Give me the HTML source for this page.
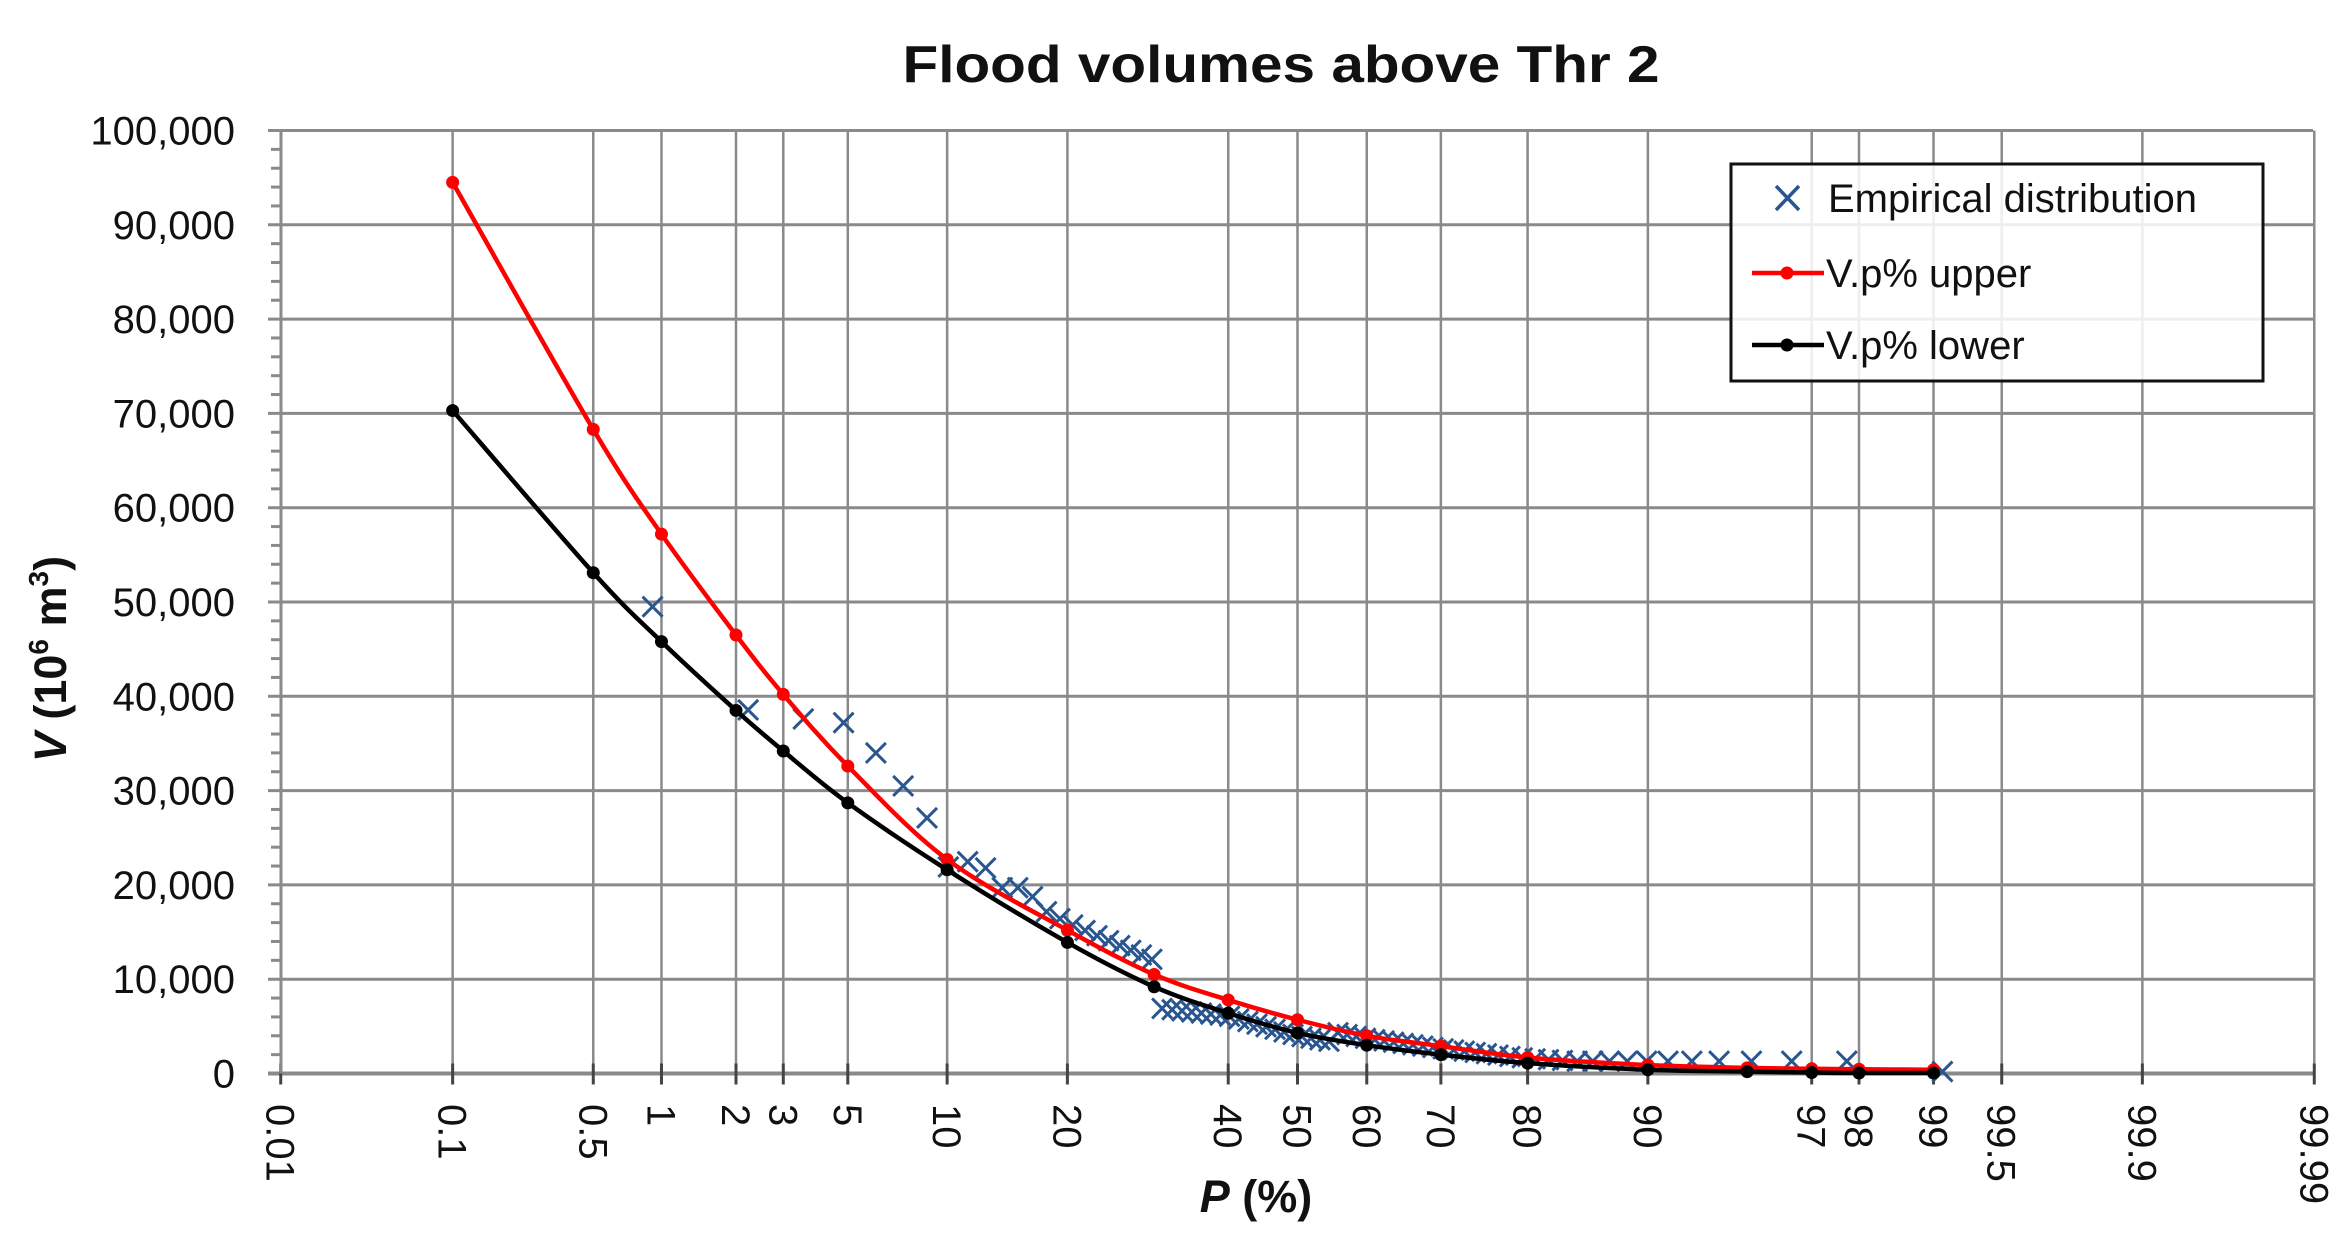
<!DOCTYPE html>
<html><head><meta charset="utf-8"><style>
html,body{margin:0;padding:0;background:#fff}
svg{display:block}
text{font-family:"Liberation Sans",sans-serif;fill:#111}
</style></head><body>
<svg id="s" width="2349" height="1241" xmlns="http://www.w3.org/2000/svg"></svg>
<script>
function ninv(p){var a=[-3.969683028665376e+01,2.209460984245205e+02,-2.759285104469687e+02,1.383577518672690e+02,-3.066479806614716e+01,2.506628277459239e+00],b=[-5.447609879822406e+01,1.615858368580409e+02,-1.556989798598866e+02,6.680131188771972e+01,-1.328068155288572e+01],c=[-7.784894002430293e-03,-3.223964580411365e-01,-2.400758277161838e+00,-2.549671669278000e+00,4.374664141464968e+00,2.938163982698783e+00],d=[7.784695709041462e-03,3.224671290700398e-01,2.445134137142996e+00,3.754408661907416e+00];var q,r,pl=0.02425;
if(p<pl){q=Math.sqrt(-2*Math.log(p));return(((((c[0]*q+c[1])*q+c[2])*q+c[3])*q+c[4])*q+c[5])/((((d[0]*q+d[1])*q+d[2])*q+d[3])*q+1);}
if(p>1-pl){q=Math.sqrt(-2*Math.log(1-p));return-(((((c[0]*q+c[1])*q+c[2])*q+c[3])*q+c[4])*q+c[5])/((((d[0]*q+d[1])*q+d[2])*q+d[3])*q+1);}
q=p-0.5;r=q*q;return(((((a[0]*r+a[1])*r+a[2])*r+a[3])*r+a[4])*r+a[5])*q/(((((b[0]*r+b[1])*r+b[2])*r+b[3])*r+b[4])*r+1);}
var L=281,R=2313,T=130.5,B=1073.5;
function X(P){return 1297.5+ninv(P/100)*273.4;}
function Y(v){return B-v*(B-T)/100000;}
var o='';
for(var v=0;v<=100000;v+=10000){o+='<line x1="268" x2="'+R+'" y1="'+Y(v)+'" y2="'+Y(v)+'" stroke="#8a8a8a" stroke-width="'+(v==0?4:3)+'"/>';}
for(var v=2000;v<100000;v+=2000){if(v%10000)o+='<line x1="271" x2="281" y1="'+Y(v)+'" y2="'+Y(v)+'" stroke="#8a8a8a" stroke-width="3"/>';}
var ticks=[0.01,0.1,0.5,1,2,3,5,10,20,40,50,60,70,80,90,97,98,99,99.5,99.9,99.99];
ticks.forEach(function(t){var x=X(t);o+='<line x1="'+x+'" x2="'+x+'" y1="'+T+'" y2="'+B+'" stroke="#8a8a8a" stroke-width="2.5"/>';
o+='<line x1="'+x+'" x2="'+x+'" y1="'+(B-10)+'" y2="'+(B+11)+'" stroke="#444" stroke-width="3"/>';
o+='<text transform="translate('+(x-14)+',1104) rotate(90)" font-size="40">'+t+'</text>';});
o+='<line x1="'+L+'" x2="'+L+'" y1="'+T+'" y2="'+B+'" stroke="#8a8a8a" stroke-width="3"/>';
for(var v=0;v<=100000;v+=10000){o+='<text x="235" y="'+(Y(v)+14)+'" font-size="40" text-anchor="end">'+(v==0?'0':v.toLocaleString('en-US'))+'</text>';}
var Ps=[0.1,0.5,1,2,3,5,10,20,30,40,50,60,70,80,90,95,97,98,99];
var up=[94500,68300,57200,46500,40200,32600,22700,15200,10500,7800,5700,4000,2900,1700,900,600,500,450,400];
var lo=[70300,53100,45800,38500,34200,28700,21600,13900,9200,6400,4300,3000,2000,1100,400,200,100,50,50];
function interp(arr,P){for(var i=0;i<Ps.length-1;i++){if(P<=Ps[i+1]){var z0=ninv(Ps[i]/100),z1=ninv(Ps[i+1]/100),z=ninv(P/100),f=(z-z0)/(z1-z0);return arr[i]+(arr[i+1]-arr[i])*f;}}return arr[arr.length-1];}
var n=76,first=[49500,38550,37600,37200,34000,30500,27100,21900,22460,21800,19700,19700,18750];
var ms='';
for(var m=1;m<=n;m++){var P=(m-0.3)/(n+0.4)*100,V;
if(m<=first.length)V=first[m-1];
else if(m==n)V=200;
else if(P<31)V=interp(up,P)+800+(P-20)*70;
else if(P<40)V=interp(lo,P)-2000+(P-31)*190;
else if(P<55)V=interp(lo,P)-300;
else V=Math.max((interp(up,P)+interp(lo,P))/2+200,1300);
var x=X(P),y=Y(V),s=10;
ms+='<path d="M'+(x-s)+' '+(y-s)+'L'+(x+s)+' '+(y+s)+'M'+(x-s)+' '+(y+s)+'L'+(x+s)+' '+(y-s)+'" stroke="#2a5690" stroke-width="3" fill="none"/>';}
o+=ms;
function smooth(arr,col){var p=Ps.map(function(P,i){return[X(P),Y(arr[i])];});var d='M'+p[0][0]+' '+p[0][1];
for(var i=0;i<p.length-1;i++){var p0=p[i-1]||p[i],p1=p[i],p2=p[i+1],p3=p[i+2]||p2;var t=1/6;
d+='C'+(p1[0]+(p2[0]-p0[0])*t)+' '+(p1[1]+(p2[1]-p0[1])*t)+' '+(p2[0]-(p3[0]-p1[0])*t)+' '+(p2[1]-(p3[1]-p1[1])*t)+' '+p2[0]+' '+p2[1];}
var r='<path d="'+d+'" stroke="'+col+'" stroke-width="4.5" fill="none"/>';
p.forEach(function(q){r+='<circle cx="'+q[0]+'" cy="'+q[1]+'" r="6.5" fill="'+col+'"/>';});return r;}
o+=smooth(up,'#ff0000');
o+=smooth(lo,'#000000');
o+='<rect x="1731" y="164" width="532" height="217" fill="#fff" fill-opacity="0.85" stroke="#111" stroke-width="3"/>';
o+='<path d="M1776 186L1799 210M1776 210L1799 186" stroke="#2a5690" stroke-width="3.5"/>';
o+='<text x="1828" y="212" font-size="40">Empirical distribution</text>';
o+='<line x1="1752" x2="1824" y1="273" y2="273" stroke="#f00" stroke-width="4.5"/><circle cx="1787" cy="273" r="6.5" fill="#f00"/>';
o+='<text x="1826" y="287" font-size="40">V.p% upper</text>';
o+='<line x1="1752" x2="1824" y1="345" y2="345" stroke="#000" stroke-width="4.5"/><circle cx="1787" cy="345" r="6.5" fill="#000"/>';
o+='<text x="1826" y="359" font-size="40">V.p% lower</text>';
o+='<text x="1281" y="82" font-size="52" font-weight="bold" text-anchor="middle" textLength="757" lengthAdjust="spacingAndGlyphs">Flood volumes above Thr 2</text>';
o+='<text x="1256" y="1212" font-size="45" font-weight="bold" text-anchor="middle"><tspan font-style="italic">P</tspan> (%)</text>';
o+='<text transform="translate(66,659) rotate(-90)" font-size="45" font-weight="bold" text-anchor="middle"><tspan font-style="italic">V</tspan> (10<tspan font-size="28" dy="-18">6</tspan><tspan dy="18"> m</tspan><tspan font-size="28" dy="-18">3</tspan><tspan dy="18">)</tspan></text>';
document.getElementById('s').innerHTML=o;
</script>
</body></html>
